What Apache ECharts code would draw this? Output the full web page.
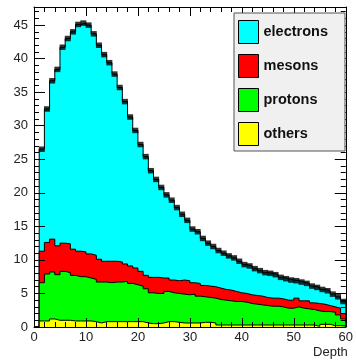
<!DOCTYPE html>
<html>
<head>
<meta charset="utf-8">
<script src="https://cdn.jsdelivr.net/npm/echarts@6/dist/echarts.min.js"></script>
<style>
  html, body { margin: 0; padding: 0; background: #fff; }
  #chart { width: 356px; height: 363px; }
</style>
</head>
<body>
<div id="chart"></div>
<script>
// Shower depth profile, one entry per unit-wide depth bin (lower edges 0..59).
const binLow = [];
for (let i = 0; i < 60; i++) binLow.push(i);
const depthMax = 60;

const electrons = [0, 15.2, 19.9, 23.6, 26.3, 29.2, 30.6, 32.4, 33.8, 34.1, 34.1, 33.0, 31.9, 30.8, 29.6,
  27.9, 26.0, 24.2, 22.2, 20.5, 18.9, 17.7, 15.9, 14.6, 13.5, 12.4, 11.9, 10.9, 9.8, 9.0, 8.0, 7.7, 7.0,
  6.4, 6.0, 5.6, 5.4, 5.1, 5.0, 4.7, 4.3, 4.3, 4.0, 3.8, 3.7, 3.7, 3.5, 3.2, 3.2, 3.0, 2.6, 2.8, 2.6,
  2.5, 2.4, 2.2, 2.2, 1.9, 1.7, 1.8];
const mesons = [0, 4.7, 4.7, 4.9, 4.3, 4.2, 4.3, 3.9, 3.8, 3.7, 3.6, 3.6, 3.4, 3.1, 3.2, 3.1, 3.0, 2.6,
  2.6, 2.5, 2.2, 2.0, 2.3, 2.4, 2.3, 2.0, 1.9, 1.9, 2.1, 2.1, 1.7, 1.9, 1.7, 1.7, 1.7, 1.7, 1.6, 1.6,
  1.5, 1.3, 1.3, 1.3, 1.3, 1.3, 1.2, 1.2, 1.2, 1.2, 1.2, 1.2, 1.3, 1.1, 1.2, 1.0, 1.1, 1.1, 0.9, 0.8,
  1.0, 0.8];
const protons = [0, 5.7, 7.0, 7.0, 6.8, 7.3, 7.1, 6.8, 6.6, 6.6, 6.4, 6.3, 6.1, 5.9, 5.8, 5.9, 5.9, 6.0,
  5.7, 5.5, 5.3, 5.1, 4.6, 4.5, 4.4, 4.5, 4.3, 4.3, 4.3, 4.2, 4.3, 4.0, 3.8, 3.7, 3.7, 3.8, 3.7, 3.6,
  3.5, 3.5, 3.4, 3.2, 3.1, 3.0, 2.9, 2.8, 2.8, 2.7, 2.5, 2.5, 2.7, 2.5, 2.4, 2.3, 2.3, 1.9, 1.9, 2.0,
  1.6, 1.0];
const others = [0, 0.9, 0.9, 1.2, 1.0, 1.0, 1.0, 0.9, 0.9, 0.9, 0.9, 0.8, 0.6, 0.8, 0.8, 0.8, 0.8, 0.8,
  0.8, 0.8, 0.8, 0.6, 0.5, 0.5, 0.6, 0.8, 0.8, 0.7, 0.6, 0.6, 0.6, 0.6, 0.7, 0.7, 0.6, 0.3, 0.3, 0.3,
  0.3, 0.3, 0.3, 0.3, 0.3, 0.3, 0.3, 0.3, 0.3, 0.3, 0.3, 0.3, 0.3, 0.3, 0.3, 0.3, 0.1, 0.4, 0.4, 0.2,
  0.2, 0.2];

const xTicks = [0, 10, 20, 30, 40, 50, 60];
const yTicks = [0, 5, 10, 15, 20, 25, 30, 35, 40, 45];
const yMax = 47.7;

// Stack order bottom to top, with fill colours.
const layers = [
  { name: 'others', values: others, color: '#ffff00' },
  { name: 'protons', values: protons, color: '#00ff00' },
  { name: 'mesons', values: mesons, color: '#ff0000' },
  { name: 'electrons', values: electrons, color: '#00ffff' }
];

const font = '"Liberation Sans", Arial, Helvetica, sans-serif';

// Running sums of the stack: each layer is painted as the sum of itself and everything below,
// drawn top layer first so lower layers paint over it.
const running = binLow.map(() => 0);
layers.forEach(l => {
  l.sum = l.values.map((v, i) => (running[i] += v));
});

// Step histogram points: value held from each lower edge to the next, closed at the last edge.
function histPoints(values) {
  const pts = values.map((v, i) => [binLow[i], v]);
  pts.push([depthMax, values[values.length - 1]]);
  pts.push([depthMax, 0]);
  return pts;
}

const totals = layers[layers.length - 1].sum;
const totalMarks = [];
totals.forEach((t, i) => { if (t > 0) totalMarks.push([binLow[i] + 0.5, t]); });

const series = layers.map((l, k) => ({
  name: l.name,
  type: 'line',
  step: 'end',
  symbol: 'none',
  color: l.color,
  lineStyle: { color: '#000', width: 1 },
  areaStyle: { color: l.color, opacity: 1, origin: 'start' },
  data: histPoints(l.sum),
  animation: false,
  z: 2 + (layers.length - k) * 0.01
})).reverse();
series.push({
  name: 'total',
  type: 'scatter',
  symbol: 'rect',
  symbolSize: [6, 5.5],
  itemStyle: { color: '#000' },
  data: totalMarks,
  animation: false,
  z: 3
});

const axisLineStyle = { color: '#000', width: 1 };

function xAxisDef(pos, withLabels) {
  return {
    type: 'value', position: pos, min: 0, max: depthMax, interval: xTicks[1] - xTicks[0],
    axisLine: { show: true, onZero: false, lineStyle: axisLineStyle },
    axisTick: { show: true, inside: true, length: 9, lineStyle: axisLineStyle },
    minorTick: { show: true, splitNumber: 5, length: 5, lineStyle: axisLineStyle },
    axisLabel: { show: withLabels, fontSize: 13, color: '#222', fontFamily: font, margin: 4 },
    splitLine: { show: false },
    name: withLabels ? 'Depth' : '',
    nameLocation: 'end',
    nameGap: 2,
    nameTextStyle: { fontSize: 13, color: '#222', fontFamily: font, align: 'right', verticalAlign: 'top', padding: [19, 0, 0, 0] },
    z: 5
  };
}

function yAxisDef(pos, step, tickLen, withLabels) {
  return {
    type: 'value', position: pos, min: 0, max: yMax, interval: step,
    axisLine: { show: step === 5, onZero: false, lineStyle: axisLineStyle },
    axisTick: { show: true, inside: true, length: tickLen, lineStyle: axisLineStyle },
    axisLabel: {
      show: withLabels, showMaxLabel: false, fontSize: 13, color: '#222', fontFamily: font, margin: 6,
      formatter: v => (yTicks.indexOf(v) >= 0 ? String(v) : '')
    },
    splitLine: { show: false },
    z: 5
  };
}

const chart = echarts.init(document.getElementById('chart'), null, { renderer: 'canvas' });
chart.setOption({
  backgroundColor: '#fff',
  animation: false,
  grid: { left: 34, right: 6, top: 7, bottom: 36, containLabel: false },
  xAxis: [xAxisDef('bottom', true), xAxisDef('top', false)],
  yAxis: [
    yAxisDef('left', 5, 11, true),
    yAxisDef('left', 1, 5, false),
    yAxisDef('right', 5, 11, false),
    yAxisDef('right', 1, 5, false)
  ],
  legend: {
    orient: 'vertical',
    left: 234, top: 13,
    itemWidth: 20, itemHeight: 23, itemGap: 10,
    padding: [7, 17, 5, 4],
    backgroundColor: '#f0f0f0',
    borderColor: '#555', borderWidth: 1,
    icon: 'rect',
    selectedMode: false,
    textStyle: { fontSize: 14.5, fontWeight: 'bold', color: '#111', fontFamily: font },
    data: layers.slice().reverse().map(l => ({
      name: l.name,
      itemStyle: { color: l.color, borderColor: '#000', borderWidth: 1 }
    })),
    z: 10
  },
  series: series
});
</script>
</body>
</html>
